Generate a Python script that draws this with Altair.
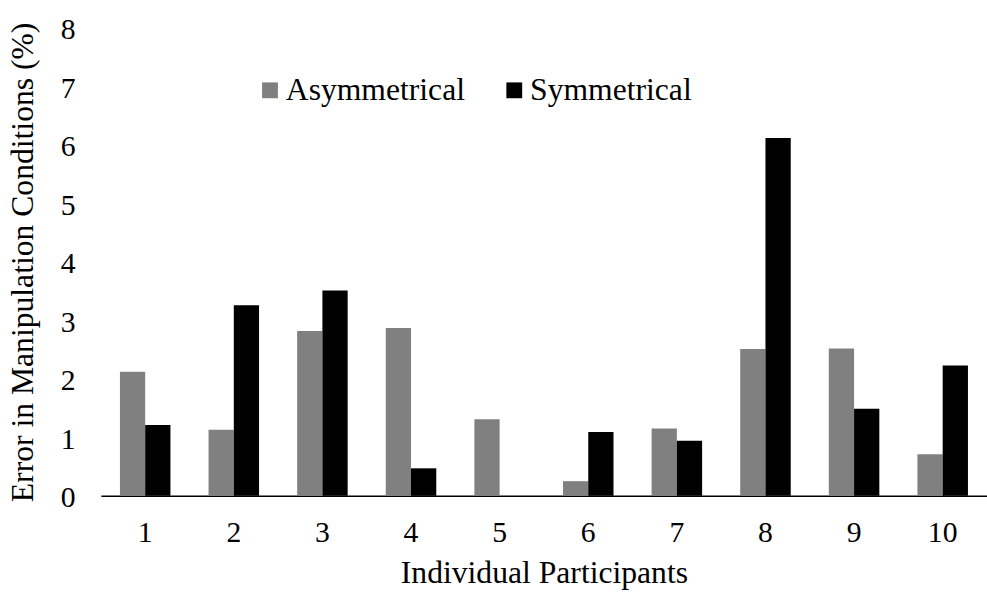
import altair as alt
import pandas as pd

# Error rates (%) per participant under each manipulation condition
participants = ["1", "2", "3", "4", "5", "6", "7", "8", "9", "10"]
asymmetrical = [2.12, 1.13, 2.82, 2.87, 1.31, 0.25, 1.15, 2.51, 2.52, 0.71]
symmetrical = [1.21, 3.26, 3.51, 0.47, 0.0, 1.09, 0.94, 6.12, 1.49, 2.23]
conditions = ["Asymmetrical", "Symmetrical"]

rows = []
for p, a, s in zip(participants, asymmetrical, symmetrical):
    rows.append({"participant": p, "condition": conditions[0], "error": a})
    rows.append({"participant": p, "condition": conditions[1], "error": s})
df = pd.DataFrame(rows)

FONT = "Liberation Serif"

chart = alt.Chart(df).mark_bar().encode(
    x=alt.X(
        "participant:N",
        sort=participants,
        title="Individual Participants",
        scale=alt.Scale(paddingInner=0.43, paddingOuter=0.215),
        axis=alt.Axis(
            labelAngle=0,
            ticks=False,
            domainColor="black",
            domainWidth=1.5,
            labelPadding=22,
            titlePadding=11,
        ),
    ),
    xOffset=alt.XOffset("condition:N", sort=conditions),
    y=alt.Y(
        "error:Q",
        title="Error in Manipulation Conditions (%)",
        scale=alt.Scale(domain=[0, 8], nice=False),
        axis=alt.Axis(
            values=list(range(0, 9)),
            domain=False,
            ticks=False,
            grid=False,
            labelPadding=26,
            labelOffset=2,
            titlePadding=21,
        ),
    ),
    color=alt.Color(
        "condition:N",
        sort=conditions,
        scale=alt.Scale(domain=conditions, range=["#808080", "#000000"]),
        legend=alt.Legend(
            title=None,
            orient="none",
            legendX=155,
            legendY=47,
            direction="horizontal",
            symbolType="square",
            symbolSize=256,
            symbolStrokeWidth=0,
            labelFontSize=32,
            labelFont=FONT,
            labelColor="black",
            labelLimit=400,
            labelOffset=0,
            columnPadding=33,
        ),
    ),
).properties(
    width=896,
    height=473,
    padding={"left": 102, "top": 25, "right": 0, "bottom": 99},
    autosize=alt.AutoSizeParams(type="none"),
).configure_view(
    stroke=None
).configure_axis(
    labelFont=FONT,
    titleFont=FONT,
    labelFontSize=30,
    titleFontSize=32,
    labelColor="black",
    titleColor="black",
    titleFontWeight="normal",
    grid=False,
)

chart.save("out.html", embed_options={"renderer": "svg", "actions": False})
